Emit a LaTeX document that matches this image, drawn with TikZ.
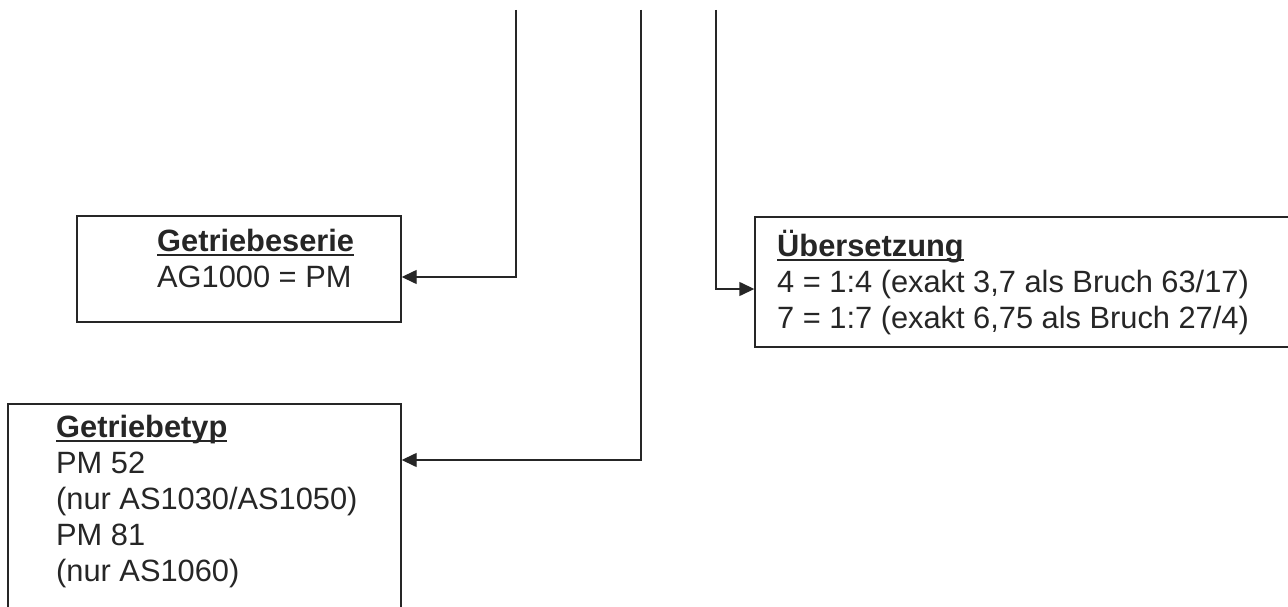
\documentclass[tikz,border=0pt]{standalone}
\usepackage{fontspec}
\setmainfont{Liberation Sans}
\usetikzlibrary{arrows.meta}
\definecolor{ink}{HTML}{262626}
\newcommand\myul[1]{\setbox0=\hbox{#1}\rlap{\rule[-5pt]{\wd0}{2.2pt}}\box0}
\tikzset{
  box/.style={draw=ink, line width=1.4pt, rectangle, inner sep=0pt},
  txt/.style={text=ink, align=left, anchor=base west, inner sep=0pt, font=\fontsize{30.8}{36}\selectfont},
  conn/.style={draw=ink, line width=1.4pt, -{Triangle[length=15pt,width=14pt]}}
}
\begin{document}
\begin{tikzpicture}[x=1pt,y=-1pt]
\useasboundingbox (0,0) rectangle (1288,607);
\fill[white] (0,0) rectangle (1288,607);
\clip (0,0) rectangle (1288,607);
% boxes
\node[box, minimum width=324pt, minimum height=106pt] (b1) at (239,269) {};
\node[box, minimum width=393pt, minimum height=236pt] (b2) at (204.5,522) {};
\node[box, minimum width=555pt, minimum height=130pt] (b3) at (1032.5,282) {};
% texts (anchored at the baseline of the last line)
\node[txt] (t1) at (157,287) {\myul{\textbf{Getriebeserie}}\\AG1000 = PM};
\node[txt] (t2) at (56,581) {\myul{\textbf{Getriebetyp}}\\PM 52\\(nur AS1030/AS1050)\\PM 81\\(nur AS1060)};
\node[txt] (t3) at (777,328) {\myul{\textbf{Übersetzung}}\\4 = 1:4 (exakt 3,7 als Bruch 63/17)\\7 = 1:7 (exakt 6,75 als Bruch 27/4)};
% connectors
\coordinate (s1) at (516,10);
\coordinate (k1) at (516,277);
\coordinate (s2) at (641,10);
\coordinate (k2) at (641,460);
\coordinate (s3) at (716,10);
\coordinate (k3) at (716,289);
\draw[conn] (s1) -- (k1) -- (b1.east |- k1);
\draw[conn] (s2) -- (k2) -- (b2.east |- k2);
\draw[conn] (s3) -- (k3) -- (b3.west |- k3);
\end{tikzpicture}
\end{document}
